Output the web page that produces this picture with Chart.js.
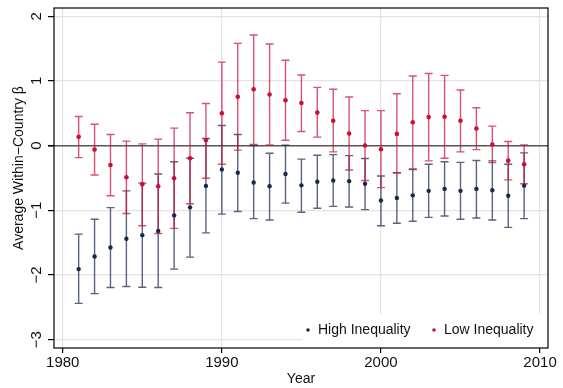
<!DOCTYPE html>
<html>
<head>
<meta charset="utf-8">
<script src="https://cdn.jsdelivr.net/npm/chart.js@4.4.0/dist/chart.umd.min.js"></script>
<style>
  html, body { margin: 0; padding: 0; background: #fff; }
  #wrap { width: 563px; height: 388px; }
</style>
</head>
<body>
<div id="wrap"><canvas id="js-beta-chart" width="563" height="388"></canvas></div>
<script>
// yearly estimates with 95% bands
const years = [1981, 1982, 1983, 1984, 1985, 1986, 1987, 1988, 1989, 1990,
  1991, 1992, 1993, 1994, 1995, 1996, 1997, 1998, 1999, 2000,
  2001, 2002, 2003, 2004, 2005, 2006, 2007, 2008, 2009];

const highMean = [-1.91, -1.715, -1.575, -1.44, -1.385, -1.32, -1.08, -0.955, -0.625, -0.37,
  -0.42, -0.57, -0.63, -0.44, -0.615, -0.56, -0.54, -0.55, -0.59, -0.85,
  -0.81, -0.77, -0.70, -0.67, -0.70, -0.67, -0.69, -0.775, -0.62];
const highLower = [-2.44, -2.29, -2.195, -2.18, -2.19, -2.195, -1.91, -1.725, -1.35, -1.06,
  -1.02, -1.13, -1.15, -0.89, -1.03, -0.97, -0.94, -0.95, -0.99, -1.24,
  -1.20, -1.17, -1.11, -1.09, -1.14, -1.12, -1.15, -1.265, -1.13];
const highUpper = [-1.37, -1.14, -0.96, -0.70, -0.58, -0.44, -0.25, -0.195, 0.11, 0.31,
  0.17, 0.0, -0.118, 0.006, -0.21, -0.15, -0.14, -0.155, -0.20, -0.47,
  -0.42, -0.37, -0.29, -0.25, -0.26, -0.23, -0.237, -0.29, -0.113];

const lowMean = [0.135, -0.062, -0.30, -0.49, -0.60, -0.63, -0.505, -0.196, 0.083, 0.50,
  0.755, 0.87, 0.79, 0.70, 0.657, 0.51, 0.383, 0.186, 0.0, -0.056,
  0.18, 0.36, 0.44, 0.445, 0.383, 0.264, 0.016, -0.233, -0.29];
const lowLower = [-0.186, -0.454, -0.775, -1.05, -1.24, -1.36, -1.28, -0.90, -0.505, -0.29,
  -0.07, 0.016, 0.01, 0.083, 0.217, 0.13, -0.098, -0.377, -0.54, -0.65,
  -0.42, -0.36, -0.237, -0.195, -0.098, -0.062, -0.264, -0.53, -0.59];
const lowUpper = [0.45, 0.33, 0.17, 0.068, 0.026, 0.099, 0.27, 0.507, 0.65, 1.29,
  1.58, 1.71, 1.57, 1.32, 1.09, 0.90, 0.87, 0.75, 0.54, 0.54,
  0.80, 1.075, 1.115, 1.085, 0.86, 0.585, 0.30, 0.062, 0.01];

const xTicks = [1980, 1990, 2000, 2010];
const yTicks = [-3, -2, -1, 0, 1, 2];
const yTitle = "Average Within\u2212Country \u03b2";

const navy = "rgb(26, 40, 80)";
const navyBar = "rgba(26, 40, 80, 0.72)";
const crimson = "rgb(204, 14, 58)";
const crimsonBar = "rgba(204, 14, 58, 0.72)";
const gridGrey = "#e4e4e4";
const font = "'Liberation Sans', Arial, sans-serif";

function toPoints(means) {
  return years.map((yr, i) => ({ x: yr, y: means[i] }));
}

// capped range bars, drawn under the markers
const rangeBars = {
  id: "rangeBars",
  beforeDatasetsDraw(chart) {
    const { ctx, chartArea, scales: { x, y } } = chart;
    ctx.save();
    ctx.beginPath();
    ctx.rect(chartArea.left, chartArea.top, chartArea.width, chartArea.height);
    ctx.clip();
    chart.data.datasets.forEach((ds) => {
      ctx.strokeStyle = ds.barColor;
      ctx.lineWidth = 1.4;
      years.forEach((yr, i) => {
        const px = x.getPixelForValue(yr);
        const top = y.getPixelForValue(ds.upper[i]);
        const bot = y.getPixelForValue(ds.lower[i]);
        ctx.beginPath();
        ctx.moveTo(px, top);
        ctx.lineTo(px, bot);
        ctx.moveTo(px - 4, top);
        ctx.lineTo(px + 4, top);
        ctx.moveTo(px - 4, bot);
        ctx.lineTo(px + 4, bot);
        ctx.stroke();
      });
    });
    ctx.restore();
  },
};

// frame round the plot, y title and the legend box in the lower right corner
const frameAndKey = {
  id: "frameAndKey",
  afterDraw(chart) {
    const { ctx, chartArea } = chart;
    const { left, top, right, bottom } = chartArea;
    ctx.save();

    const boxL = 303, boxT = 314;
    ctx.fillStyle = "#fff";
    ctx.fillRect(boxL, boxT, right - boxL, bottom - boxT);

    ctx.font = "14px " + font;
    ctx.textBaseline = "middle";
    const ty = 330;
    chart.data.datasets.forEach((ds, i) => {
      const mx = i === 0 ? 308 : 434;
      ctx.fillStyle = ds.backgroundColor;
      ctx.beginPath();
      ctx.arc(mx, ty, 1.8, 0, Math.PI * 2);
      ctx.fill();
      ctx.fillStyle = "#111";
      ctx.textAlign = "left";
      ctx.fillText(ds.label, mx + 10, ty);
    });

    // y title sits a little above the middle of the axis
    ctx.save();
    ctx.translate(19, 168);
    ctx.rotate(-Math.PI / 2);
    ctx.textAlign = "center";
    ctx.fillStyle = "#111";
    ctx.fillText(yTitle, 0, 0);
    ctx.restore();

    ctx.strokeStyle = "#000";
    ctx.lineWidth = 1.2;
    ctx.strokeRect(left, top, right - left, bottom - top);
    ctx.restore();
  },
};

const ctxEl = document.getElementById("js-beta-chart");

new Chart(ctxEl, {
  type: "scatter",
  data: {
    datasets: [
      {
        label: "High Inequality",
        data: toPoints(highMean),
        lower: highLower,
        upper: highUpper,
        barColor: navyBar,
        backgroundColor: navy,
        borderWidth: 0,
        pointRadius: 2.2,
      },
      {
        label: "Low Inequality",
        data: toPoints(lowMean),
        lower: lowLower,
        upper: lowUpper,
        barColor: crimsonBar,
        backgroundColor: crimson,
        borderWidth: 0,
        pointRadius: 2.3,
      },
    ],
  },
  options: {
    responsive: false,
    devicePixelRatio: 1,
    animation: false,
    layout: { padding: { top: 8, right: 15, left: 0, bottom: 0 } },
    plugins: {
      legend: { display: false },
      tooltip: { enabled: false },
    },
    scales: {
      x: {
        type: "linear",
        min: 1979.45,
        max: 2010.5,
        afterBuildTicks(axis) {
          axis.ticks = xTicks.map((v) => ({ value: v }));
        },
        afterFit(axis) {
          axis.height = 40;
          axis.paddingLeft = 0;
          axis.paddingRight = 0;
        },
        border: { display: false },
        grid: {
          color: gridGrey,
          lineWidth: 1.2,
          tickColor: "#000",
          tickLength: 5,
        },
        ticks: {
          color: "#111",
          font: { family: font, size: 15 },
          padding: 1,
          maxRotation: 0,
          callback: (v) => String(v),
        },
        title: {
          display: true,
          text: "Year",
          color: "#111",
          font: { family: font, size: 14 },
          padding: { top: 0, bottom: 0 },
        },
      },
      y: {
        type: "linear",
        min: -3.13,
        max: 2.127,
        afterBuildTicks(axis) {
          axis.ticks = yTicks.map((v) => ({ value: v }));
        },
        afterFit(axis) {
          axis.width = 54;
          axis.paddingTop = 0;
          axis.paddingBottom = 0;
        },
        border: { display: false },
        grid: {
          color: (c) => (c.tick && c.tick.value === 0 ? "#555" : gridGrey),
          lineWidth: (c) => (c.tick && c.tick.value === 0 ? 1.6 : 1.2),
          tickColor: "#000",
          tickLength: 6,
        },
        ticks: {
          color: "#111",
          font: { family: font, size: 15 },
          minRotation: 90,
          maxRotation: 90,
          crossAlign: "center",
          padding: 3,
          callback: (v) => String(v).replace("-", "\u2212"),
        },
      },
    },
  },
  plugins: [rangeBars, frameAndKey],
});
</script>
</body>
</html>
